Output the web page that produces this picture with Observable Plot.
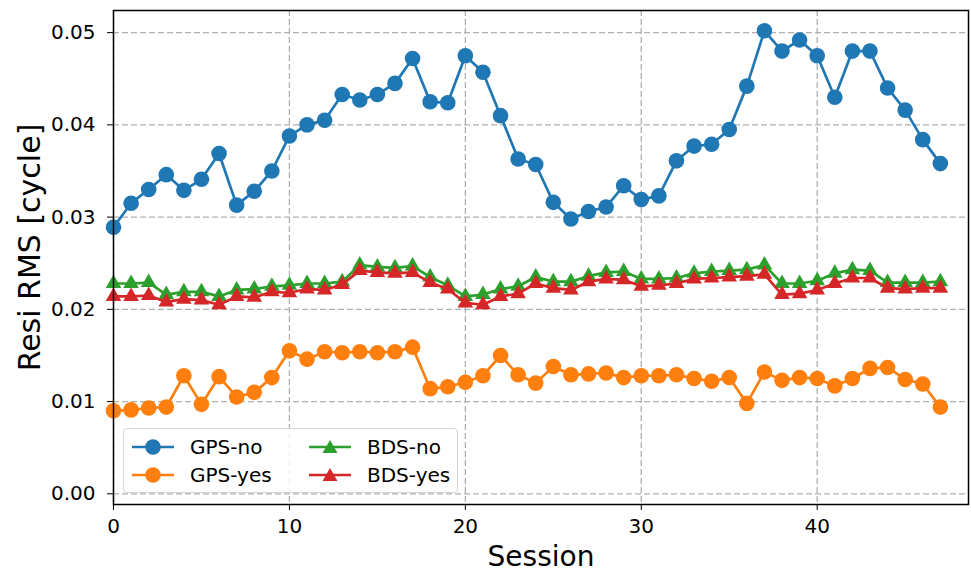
<!DOCTYPE html>
<html>
<head>
<meta charset="utf-8">
<script src="https://cdn.jsdelivr.net/npm/d3@7"></script>
<script src="https://cdn.jsdelivr.net/npm/@observablehq/plot@0.6"></script>
<style>
  body { margin: 0; background: #fff; font-family: "DejaVu Sans", sans-serif; }
  #wrap { position: relative; width: 971px; height: 573px; }
  #legend {
    position: absolute; left: 123px; top: 428px; width: 335px; height: 65px;
    box-sizing: border-box; border: 1px solid #d4d4d4; border-radius: 4px;
    background: rgba(255, 255, 255, 0.8);
  }
  .item { position: absolute; display: flex; align-items: center; height: 24px; font-size: 20px; color: #000; white-space: nowrap; }
  .item svg { margin-right: 16px; }
</style>
</head>
<body>
<div id="wrap"><div id="legend"></div></div>
<script>
// Residual RMS per session, in cycles
const sessions = d3.range(48);
const gpsNo = [0.0289, 0.0315, 0.0330, 0.0346, 0.0329, 0.0341, 0.0369, 0.0313, 0.0328, 0.0350,
               0.0388, 0.0400, 0.0405, 0.0433, 0.0427, 0.0433, 0.0445, 0.0472, 0.0425, 0.0424,
               0.0475, 0.0457, 0.0410, 0.0363, 0.0357, 0.0316, 0.0298, 0.0306, 0.0311, 0.0334,
               0.0319, 0.0323, 0.0361, 0.0377, 0.0379, 0.0395, 0.0442, 0.0502, 0.0480, 0.0492,
               0.0475, 0.0430, 0.0480, 0.0480, 0.0440, 0.0416, 0.0384, 0.0358];
const gpsYes = [0.0090, 0.0091, 0.0093, 0.0094, 0.0128, 0.0097, 0.0127, 0.0105, 0.0110, 0.0126,
                0.0155, 0.0146, 0.0154, 0.0153, 0.0154, 0.0153, 0.0154, 0.0159, 0.0114, 0.0116,
                0.0121, 0.0128, 0.0150, 0.0129, 0.0120, 0.0138, 0.0129, 0.0130, 0.0131, 0.0126,
                0.0128, 0.0128, 0.0129, 0.0125, 0.0122, 0.0126, 0.0098, 0.0132, 0.0123, 0.0126,
                0.0125, 0.0117, 0.0125, 0.0136, 0.0137, 0.0124, 0.0119, 0.0094];
const bdsNo = [0.0228, 0.0228, 0.0229, 0.0216, 0.0219, 0.0219, 0.0214, 0.0221, 0.0222, 0.0225,
               0.0226, 0.0228, 0.0228, 0.0230, 0.0248, 0.0246, 0.0245, 0.0247, 0.0235, 0.0226,
               0.0214, 0.0216, 0.0222, 0.0225, 0.0235, 0.0230, 0.0230, 0.0236, 0.0240, 0.0241,
               0.0233, 0.0233, 0.0234, 0.0239, 0.0241, 0.0242, 0.0243, 0.0248, 0.0228, 0.0228,
               0.0231, 0.0239, 0.0243, 0.0242, 0.0229, 0.0229, 0.0229, 0.0230];
const bdsYes = [0.0214, 0.0214, 0.0215, 0.0208, 0.0211, 0.0210, 0.0205, 0.0214, 0.0213, 0.0219,
                0.0218, 0.0222, 0.0221, 0.0227, 0.0242, 0.0240, 0.0239, 0.0240, 0.0229, 0.0222,
                0.0207, 0.0205, 0.0214, 0.0217, 0.0228, 0.0223, 0.0221, 0.0230, 0.0233, 0.0232,
                0.0225, 0.0226, 0.0228, 0.0233, 0.0234, 0.0235, 0.0236, 0.0238, 0.0216, 0.0217,
                0.0221, 0.0228, 0.0234, 0.0234, 0.0223, 0.0222, 0.0223, 0.0223];

const seriesNames = ["GPS-no", "GPS-yes", "BDS-no", "BDS-yes"];
const seriesValues = [gpsNo, gpsYes, bdsNo, bdsYes];
const seriesColors = ["#1f77b4", "#ff7f0e", "#2ca02c", "#d62728"];
const seriesSymbols = ["circle", "circle", "triangle", "triangle"];

const xTicks = [0, 10, 20, 30, 40];
const yTicks = [0, 0.01, 0.02, 0.03, 0.04, 0.05];

const series = seriesNames.map((name, k) => ({
  name, color: seriesColors[k], symbol: seriesSymbols[k],
  rows: seriesValues[k].map((v, i) => ({session: sessions[i], value: v}))
}));

const grid = {stroke: "#b0b0b0", strokeOpacity: 1, strokeWidth: 1.3, strokeDasharray: "6,3"};

const chart = Plot.plot({
  width: 971, height: 573,
  marginLeft: 113, marginRight: 3, marginTop: 10, marginBottom: 69,
  style: {fontFamily: "DejaVu Sans", fontSize: "20px", color: "#000", background: "#fff"},
  x: {domain: [0, 48.6]},
  y: {domain: [-0.00116, 0.0524]},
  marks: [
    Plot.gridX(xTicks, grid),
    Plot.gridY(yTicks, grid),
    Plot.axisX(xTicks, {tickSize: 6, tickPadding: 8, label: null, tickFormat: d => String(d)}),
    Plot.axisY(yTicks, {tickSize: 6, tickPadding: 12, label: null, tickFormat: d => d.toFixed(2)}),
    ...series.flatMap(s => [
      Plot.line(s.rows, {x: "session", y: "value", stroke: s.color, strokeWidth: 2.7}),
      Plot.dot(s.rows, {x: "session", y: "value", fill: s.color, stroke: "none",
                        symbol: s.symbol, r: s.symbol === "circle" ? 7.8 : 5.8})
    ]),
    Plot.frame({stroke: "#000", strokeWidth: 1.5}),
    Plot.text(["Session"], {text: d => d, frameAnchor: "bottom", dy: 53, fontSize: 28, lineAnchor: "middle"}),
    Plot.text(["Resi RMS [cycle]"], {text: d => d, frameAnchor: "left", dx: -83, dy: -10, rotate: -90,
                                     fontSize: 30, textAnchor: "middle", lineAnchor: "middle"})
  ]
});
document.getElementById("wrap").prepend(chart);

// Legend: two columns, line + marker swatch and series name
const legend = document.getElementById("legend");
const slots = [[8, 6], [8, 34], [185, 6], [185, 34]];
series.forEach((s, k) => {
  const item = document.createElement("div");
  item.className = "item";
  item.style.left = slots[k][0] + "px";
  item.style.top = slots[k][1] + "px";
  const marker = s.symbol === "circle"
    ? `<circle cx="21" cy="12" r="7.8" fill="${s.color}"/>`
    : `<path d="M21,5 L28.5,18 L13.5,18 Z" fill="${s.color}"/>`;
  item.innerHTML = `<svg width="42" height="24"><line x1="0" x2="42" y1="12" y2="12" stroke="${s.color}" stroke-width="2.7"/>${marker}</svg><span>${s.name}</span>`;
  legend.appendChild(item);
});
</script>
</body>
</html>
